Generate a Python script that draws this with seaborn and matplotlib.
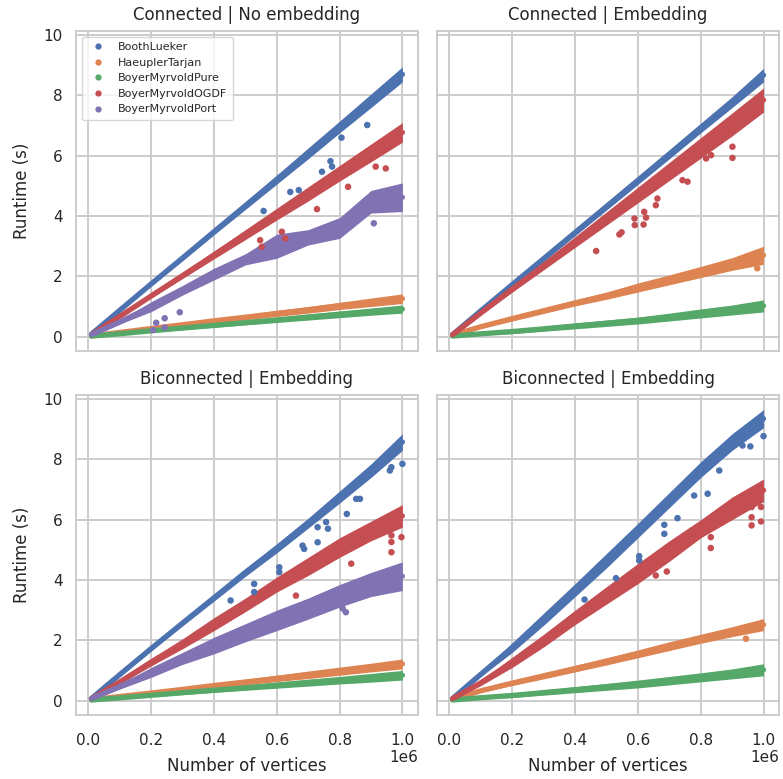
import matplotlib
matplotlib.use("Agg")
import matplotlib.pyplot as plt
from matplotlib.lines import Line2D
import seaborn as sns
import pandas as pd

# ---------------- data ----------------
ALGOS = ["BoothLueker", "HaeuplerTarjan", "BoyerMyrvoldPure",
         "BoyerMyrvoldOGDF", "BoyerMyrvoldPort"]
TITLES = ["Connected | No embedding", "Connected | Embedding",
          "Biconnected | Embedding", "Biconnected | Embedding"]

# number of vertices (in millions) at which the band edges were read
VERTS = [0.01, 0.1, 0.2, 0.3, 0.4, 0.5, 0.6, 0.7, 0.8, 0.9, 1.0]

# Panel 1: Connected | No embedding  (runtime band low / high, seconds)
p1_booth_lo = [0.05, 0.82, 1.68, 2.52, 3.38, 4.22, 5.06, 5.90, 6.76, 7.60, 8.45]
p1_booth_hi = [0.12, 0.93, 1.82, 2.70, 3.58, 4.47, 5.36, 6.26, 7.15, 8.05, 8.95]
p1_haeup_lo = [0.01, 0.10, 0.22, 0.33, 0.45, 0.56, 0.67, 0.78, 0.90, 1.00, 1.10]
p1_haeup_hi = [0.05, 0.18, 0.32, 0.46, 0.60, 0.73, 0.87, 1.00, 1.14, 1.28, 1.42]
p1_pure_lo = [0.00, 0.06, 0.15, 0.23, 0.31, 0.39, 0.47, 0.55, 0.63, 0.71, 0.78]
p1_pure_hi = [0.04, 0.13, 0.24, 0.34, 0.44, 0.54, 0.64, 0.75, 0.85, 0.95, 1.05]
p1_ogdf_lo = [0.03, 0.62, 1.28, 1.93, 2.58, 3.22, 3.87, 4.50, 5.16, 5.80, 6.45]
p1_ogdf_hi = [0.10, 0.72, 1.42, 2.12, 2.84, 3.55, 4.26, 4.97, 5.68, 6.39, 7.10]
p1_port_lo = [0.03, 0.42, 0.83, 1.38, 1.88, 2.38, 2.60, 3.04, 3.26, 4.10, 4.15]
p1_port_hi = [0.10, 0.55, 1.16, 1.70, 2.27, 2.75, 3.40, 3.55, 3.95, 4.85, 5.10]

# Panel 2: Connected | Embedding
p2_booth_lo = [0.04, 0.80, 1.66, 2.50, 3.35, 4.20, 5.05, 5.90, 6.76, 7.60, 8.45]
p2_booth_hi = [0.10, 0.92, 1.80, 2.68, 3.56, 4.44, 5.32, 6.20, 7.08, 7.96, 8.90]
p2_haeup_lo = [0.02, 0.28, 0.52, 0.77, 1.02, 1.24, 1.48, 1.72, 1.96, 2.20, 2.40]
p2_haeup_hi = [0.08, 0.38, 0.68, 0.95, 1.22, 1.48, 1.78, 2.05, 2.33, 2.62, 3.00]
p2_pure_lo = [0.00, 0.05, 0.10, 0.18, 0.26, 0.34, 0.42, 0.52, 0.62, 0.72, 0.82]
p2_pure_hi = [0.04, 0.14, 0.24, 0.34, 0.45, 0.55, 0.65, 0.78, 0.92, 1.05, 1.22]
p2_ogdf_lo = [0.03, 0.72, 1.48, 2.22, 2.96, 3.70, 4.44, 5.18, 5.92, 6.66, 7.45]
p2_ogdf_hi = [0.10, 0.85, 1.68, 2.50, 3.32, 4.14, 4.96, 5.78, 6.60, 7.42, 8.25]

# Panel 3: Biconnected | Embedding (left)
p3_booth_lo = [0.04, 0.80, 1.65, 2.48, 3.30, 4.12, 4.90, 5.72, 6.55, 7.40, 8.30]
p3_booth_hi = [0.10, 0.92, 1.80, 2.66, 3.52, 4.38, 5.20, 6.05, 6.95, 7.85, 8.85]
p3_haeup_lo = [0.01, 0.10, 0.20, 0.30, 0.42, 0.52, 0.63, 0.73, 0.84, 0.95, 1.05]
p3_haeup_hi = [0.05, 0.17, 0.30, 0.44, 0.58, 0.71, 0.84, 0.98, 1.11, 1.24, 1.38]
p3_pure_lo = [0.00, 0.06, 0.13, 0.20, 0.27, 0.34, 0.41, 0.48, 0.55, 0.61, 0.68]
p3_pure_hi = [0.04, 0.12, 0.22, 0.32, 0.42, 0.51, 0.61, 0.71, 0.80, 0.90, 1.00]
p3_ogdf_lo = [0.03, 0.55, 1.15, 1.72, 2.32, 2.95, 3.60, 4.15, 4.75, 5.30, 5.75]
p3_ogdf_hi = [0.10, 0.68, 1.40, 2.05, 2.75, 3.40, 4.10, 4.75, 5.40, 5.95, 6.50]
p3_port_lo = [0.03, 0.38, 0.77, 1.20, 1.55, 1.95, 2.32, 2.70, 3.10, 3.45, 3.65]
p3_port_hi = [0.10, 0.55, 1.10, 1.60, 2.10, 2.55, 3.00, 3.40, 3.85, 4.25, 4.60]

# Panel 4: Biconnected | Embedding (right)
p4_booth_lo = [0.04, 0.80, 1.60, 2.50, 3.45, 4.40, 5.40, 6.40, 7.40, 8.30, 9.05]
p4_booth_hi = [0.10, 0.95, 1.92, 2.90, 3.88, 4.88, 5.88, 6.90, 7.92, 8.85, 9.65]
p4_haeup_lo = [0.02, 0.27, 0.50, 0.72, 0.95, 1.18, 1.42, 1.66, 1.90, 2.12, 2.32]
p4_haeup_hi = [0.08, 0.38, 0.66, 0.92, 1.17, 1.42, 1.68, 1.95, 2.20, 2.45, 2.72]
p4_pure_lo = [0.00, 0.05, 0.10, 0.18, 0.26, 0.34, 0.42, 0.52, 0.62, 0.72, 0.82]
p4_pure_hi = [0.04, 0.14, 0.24, 0.35, 0.46, 0.57, 0.68, 0.80, 0.92, 1.05, 1.22]
p4_ogdf_lo = [0.03, 0.50, 1.10, 1.78, 2.52, 3.20, 3.88, 4.62, 5.40, 6.00, 6.60]
p4_ogdf_hi = [0.10, 0.68, 1.44, 2.20, 3.00, 3.78, 4.55, 5.30, 6.00, 6.75, 7.35]

# isolated measurements lying off the main bands
p1_out_algo = ["BoothLueker"] * 8 + ["BoyerMyrvoldOGDF"] * 8 + ["BoyerMyrvoldPort"] * 6
p1_out_x = [0.888, 0.806, 0.771, 0.776, 0.744, 0.670, 0.643, 0.558,
            0.827, 0.947, 0.915, 0.728, 0.616, 0.627, 0.547, 0.552,
            0.291, 0.243, 0.216, 0.243, 0.206, 0.909]
p1_out_y = [7.02, 6.60, 5.82, 5.64, 5.47, 4.86, 4.80, 4.17,
            4.97, 5.58, 5.64, 4.23, 3.48, 3.26, 3.20, 2.98,
            0.81, 0.61, 0.46, 0.30, 0.22, 3.76]

p2_out_algo = ["BoyerMyrvoldOGDF"] * 16 + ["HaeuplerTarjan"]
p2_out_x = [0.467, 0.541, 0.548, 0.589, 0.590, 0.618, 0.620, 0.626,
            0.657, 0.662, 0.742, 0.758, 0.817, 0.833, 0.901, 0.901, 0.980]
p2_out_y = [2.84, 3.39, 3.46, 3.92, 3.70, 3.72, 4.14, 3.95,
            4.36, 4.58, 5.19, 5.14, 5.91, 6.02, 6.30, 5.93, 2.27]

p3_out_algo = ["BoothLueker"] * 17 + ["BoyerMyrvoldOGDF"] * 6 + ["BoyerMyrvoldPort"] * 2
p3_out_x = [1.000, 0.960, 0.965, 0.853, 0.865, 0.823, 0.757, 0.763, 0.730,
            0.730, 0.682, 0.687, 0.608, 0.608, 0.528, 0.528, 0.453,
            0.965, 0.997, 0.965, 0.965, 0.837, 0.661,
            0.810, 0.820]
p3_out_y = [7.85, 7.63, 7.74, 6.69, 6.69, 6.19, 5.92, 5.70, 5.75,
            5.25, 5.14, 5.03, 4.42, 4.26, 3.87, 3.60, 3.32,
            5.48, 5.42, 5.26, 4.92, 4.54, 3.48,
            3.05, 2.93]

p4_out_algo = ["BoothLueker"] * 13 + ["BoyerMyrvoldOGDF"] * 9 + ["HaeuplerTarjan"]
p4_out_x = [1.000, 0.958, 0.933, 0.859, 0.822, 0.779, 0.726, 0.684, 0.684,
            0.604, 0.604, 0.530, 0.430,
            0.992, 0.962, 0.962, 0.962, 0.992, 0.832, 0.832, 0.692, 0.657,
            0.944]
p4_out_y = [8.77, 8.43, 8.46, 7.63, 6.86, 6.80, 6.05, 5.83, 5.53,
            4.79, 4.65, 4.06, 3.35,
            6.42, 6.42, 6.08, 5.81, 5.94, 5.42, 5.06, 4.28, 4.15,
            2.05]

PANEL_BANDS = [
    {"BoothLueker": (p1_booth_lo, p1_booth_hi), "HaeuplerTarjan": (p1_haeup_lo, p1_haeup_hi),
     "BoyerMyrvoldPure": (p1_pure_lo, p1_pure_hi), "BoyerMyrvoldOGDF": (p1_ogdf_lo, p1_ogdf_hi),
     "BoyerMyrvoldPort": (p1_port_lo, p1_port_hi)},
    {"BoothLueker": (p2_booth_lo, p2_booth_hi), "HaeuplerTarjan": (p2_haeup_lo, p2_haeup_hi),
     "BoyerMyrvoldPure": (p2_pure_lo, p2_pure_hi), "BoyerMyrvoldOGDF": (p2_ogdf_lo, p2_ogdf_hi)},
    {"BoothLueker": (p3_booth_lo, p3_booth_hi), "HaeuplerTarjan": (p3_haeup_lo, p3_haeup_hi),
     "BoyerMyrvoldPure": (p3_pure_lo, p3_pure_hi), "BoyerMyrvoldOGDF": (p3_ogdf_lo, p3_ogdf_hi),
     "BoyerMyrvoldPort": (p3_port_lo, p3_port_hi)},
    {"BoothLueker": (p4_booth_lo, p4_booth_hi), "HaeuplerTarjan": (p4_haeup_lo, p4_haeup_hi),
     "BoyerMyrvoldPure": (p4_pure_lo, p4_pure_hi), "BoyerMyrvoldOGDF": (p4_ogdf_lo, p4_ogdf_hi)},
]
PANEL_OUT = [(p1_out_algo, p1_out_x, p1_out_y), (p2_out_algo, p2_out_x, p2_out_y),
             (p3_out_algo, p3_out_x, p3_out_y), (p4_out_algo, p4_out_x, p4_out_y)]

# ---------------- style ----------------
sns.set_theme(style="whitegrid", context="notebook")
plt.rcParams.update({
    "font.family": ["DejaVu Sans"],
    "grid.linewidth": 1.4,
    "axes.linewidth": 1.4,
    "axes.edgecolor": "0.8",
})
palette = dict(zip(ALGOS, sns.color_palette("deep", 5)))

fig, axes = plt.subplots(2, 2, figsize=(7.83, 7.79), dpi=100, sharex=True, sharey=True)
fig.subplots_adjust(left=0.097, right=0.995, top=0.960, bottom=0.082,
                    wspace=0.056, hspace=0.137)

for i, ax in enumerate(axes.flat):
    rows = []
    for algo, (lo, hi) in PANEL_BANDS[i].items():
        for v, a, b in zip(VERTS, lo, hi):
            rows.append({"verts": v * 1e6, "runtime": a, "algo": algo})
            rows.append({"verts": v * 1e6, "runtime": b, "algo": algo})
    df = pd.DataFrame(rows)
    order = [a for a in ALGOS if a in PANEL_BANDS[i]]
    sns.lineplot(data=df, x="verts", y="runtime", hue="algo", hue_order=order,
                 palette=palette, errorbar=("pi", 100), err_kws={"alpha": 1.0, "linewidth": 0},
                 linewidth=3.8, solid_capstyle="round", legend=False, ax=ax)
    oa, ox, oy = PANEL_OUT[i]
    odf = pd.DataFrame({"verts": [v * 1e6 for v in ox], "runtime": oy, "algo": oa})
    sns.scatterplot(data=odf, x="verts", y="runtime", hue="algo", palette=palette,
                    s=22, linewidth=0, legend=False, ax=ax, zorder=3)
    ax.set_title(TITLES[i], fontsize=12, pad=8)
    ax.set_xlabel("Number of vertices" if i >= 2 else "", fontsize=12, labelpad=6)
    ax.set_ylabel("Runtime (s)" if i % 2 == 0 else "", fontsize=12, labelpad=9)
    ax.tick_params(labelsize=11)
    ax.tick_params(axis="x", pad=7)
    ax.xaxis.OFFSETTEXTPAD = 1.5

axes[0, 0].set_yticks([0, 2, 4, 6, 8, 10])
axes[0, 0].set_xticks([0, 0.2e6, 0.4e6, 0.6e6, 0.8e6, 1.0e6])

handles = [Line2D([], [], marker="o", linestyle="", markersize=4.5,
                  markerfacecolor=palette[a], markeredgewidth=0, label=a) for a in ALGOS]
axes[0, 0].legend(handles=handles, loc="upper left", fontsize=8, frameon=True,
                  handletextpad=0.8, borderpad=0.5, labelspacing=0.5)

fig.savefig("out.png", dpi=100)
